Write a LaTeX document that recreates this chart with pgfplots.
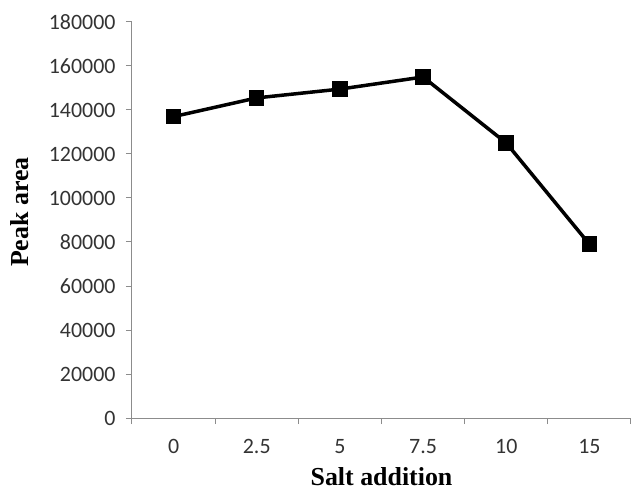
\documentclass[border=0pt]{standalone}
\usepackage{pgfplots}
\pgfplotsset{compat=1.18}
\usepackage{fontspec}
\setmainfont{Carlito}
\newfontfamily\titlefont{Liberation Serif}

\definecolor{axisgray}{RGB}{140,140,140}

\begin{document}
\begin{tikzpicture}
\begin{axis}[
  at={(0,0)}, anchor=south west,
  scale only axis, width=499bp, height=396bp,
  xmin=-0.5, xmax=5.5, ymin=0, ymax=180000,
  axis lines*=left,
  axis line style={draw=axisgray, line width=1bp},
  tick align=outside,
  xtick={0,1,2,3,4,5},
  xticklabels={0,2.5,5,7.5,10,15},
  minor xtick={-0.5,0.5,1.5,2.5,3.5,4.5,5.5},
  major tick length=6bp,
  minor tick length=6bp,
  ytick={0,20000,...,180000},
  scaled y ticks=false,
  tick style={draw=axisgray, line width=1bp},
  major x tick style={draw=none},
  ticklabel style={font=\fontsize{22}{26}\selectfont, text=black!80},
  yticklabel style={xshift=-7bp},
  xticklabel style={yshift=-12bp},
  /pgf/number format/fixed,
  /pgf/number format/assume math mode=true,
  /pgf/number format/1000 sep={},
  clip=false,
  xlabel={Salt addition}, ylabel={Peak area},
  every axis x label/.style={at={(axis description cs:0.5,0)}, anchor=base, inner sep=0pt, yshift=-67bp,
    font=\titlefont\bfseries\fontsize{26}{30}\selectfont},
  every axis y label/.style={at={(axis description cs:0,0.52)}, rotate=90, anchor=center, yshift=112bp,
    font=\titlefont\bfseries\fontsize{26}{30}\selectfont},
]
\addplot[black, line width=3.5bp, mark=square*, mark size=6bp, mark options={solid}]
  coordinates {(0,137000) (1,145500) (2,149500) (3,155000) (4,125000) (5,79000)};
\end{axis}
\pgfresetboundingbox
\path[use as bounding box] (-132bp,-74bp) rectangle (500bp,418bp);
\end{tikzpicture}
\end{document}
